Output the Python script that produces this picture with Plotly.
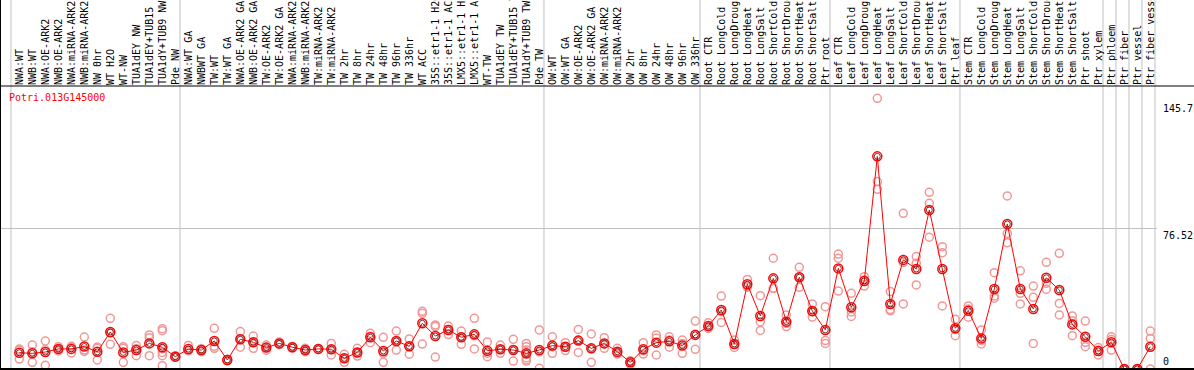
import plotly.graph_objects as go

# ---------------- data ----------------
categories = [
    "NWA:WT", "NWB:WT", "NWA:OE-ARK2", "NWB:OE-ARK2", "NWA:miRNA-ARK2", "NWB:miRNA-ARK2",
    "NW 0hr", "WT H2O", "WT-NW", "TUA1dEY NW", "TUA1dEY+TUB15 NW", "TUA1dY+TUB9 NW", "Pde NW",
    "NWA:WT GA", "NWBWT GA", "TW:WT", "TW:WT GA", "NWA:OE-ARK2 GA", "NWB:OE-ARK2 GA",
    "TW:OE-ARK2", "TW:OE-ARK2 GA", "NWA:miRNA-ARK2 GA", "NWB:miRNA-ARK2 GA", "TW:miRNA-ARK2",
    "TW:miRNA-ARK2", "TW 2hr", "TW 8hr", "TW 24hr", "TW 48hr", "TW 96hr", "TW 336hr", "WT ACC",
    "35S::etr1-1 H2O", "35S::etr1-1 ACC", "LMX5::etr1-1 H2O", "LMX5::etr1-1 ACC", "WT-TW",
    "TUA1dEY TW", "TUA1dEY+TUB15 TW", "TUA1dY+TUB9 TW", "Pde TW",
    "OW:WT", "OW:WT GA", "OW:OE-ARK2", "OW:OE-ARK2 GA", "OW:miRNA-ARK2", "OW:miRNA-ARK2",
    "OW 2hr", "OW 8hr", "OW 24hr", "OW 48hr", "OW 96hr", "OW 336hr",
    "Root CTR", "Root LongCold", "Root LongDrought", "Root LongHeat", "Root LongSalt",
    "Root ShortCold", "Root ShortDrought", "Root ShortHeat", "Root ShortSalt", "Ptr root",
    "Leaf CTR", "Leaf LongCold", "Leaf LongDrought", "Leaf LongHeat", "Leaf LongSalt",
    "Leaf ShortCold", "Leaf ShortDrought", "Leaf ShortHeat", "Leaf ShortSalt", "Ptr leaf",
    "Stem CTR", "Stem LongCold", "Stem LongDrought", "Stem LongHeat", "Stem LongSalt",
    "Stem ShortCold", "Stem ShortDrought", "Stem ShortHeat", "Stem ShortSalt", "Ptr shoot",
    "Ptr xylem", "Ptr phloem", "Ptr fiber", "Ptr vessel", "Ptr fiber vessel",
]

means = [
    8.8, 8.5, 9.2, 10.9, 10.9, 12.2, 9.3, 20.1, 9.0, 10.3, 13.9, 11.8, 6.7,
    10.8, 10.3, 15.2, 4.9, 16.1, 14.5, 11.6, 13.9, 11.8, 10.3, 10.9, 10.7, 5.8, 9.0,
    17.2, 9.8, 15.2, 12.3, 24.8, 17.9, 21.2, 17.2, 18.8, 9.9, 10.7, 10.3, 8.5, 10.3,
    12.7, 12.1, 15.4, 11.2, 13.9, 9.4, 3.6, 10.7, 14.3, 15.0, 12.7, 18.5,
    23.3, 32.0, 13.6, 46.0, 28.8, 49.2, 25.7, 49.8, 31.5, 21.2,
    54.6, 33.5, 47.8, 115.4, 35.3, 59.2, 54.3, 86.3, 54.3, 22.1,
    31.6, 16.6, 43.4, 78.7, 43.4, 32.6, 49.5, 42.9, 24.2, 17.5, 9.8,
    14.5, 0.0, 0.0, 12.1,
]

replicates = [
    [10.8, 10.2, 5.4], [13.0, 3.6, 9.4], [15.2, 2.0, 10.4], [12.1, 10.9, 9.8],
    [12.3, 8.7, 11.7], [17.3, 10.3, 9.5], [11.9, 11.2, 4.9], [27.5, 13.4, 19.5],
    [12.1, 3.6, 11.3], [12.7, 7.2, 11.0], [18.5, 17.0, 7.2],
    [21.9, 20.8, 11.0, 9.0, 7.2, 1.8], [7.2, 6.5, 6.4],
    [12.8, 10.0, 9.9], [11.0, 9.4, 10.5], [22.1, 12.3, 11.2], [5.3, 4.9, 4.5],
    [20.3, 16.2, 11.8], [17.9, 14.5, 11.2], [13.0, 11.6, 10.2], [14.6, 13.9, 13.2],
    [12.2, 11.8, 11.4], [11.2, 10.3, 9.4], [11.1, 10.9, 10.7], [13.9, 10.7, 7.6],
    [8.0, 5.8, 3.6], [11.2, 9.0, 7.0], [19.4, 17.8, 14.3], [17.2, 8.5, 3.6],
    [20.6, 15.0, 10.3], [16.3, 12.5, 8.0], [31.3, 30.2, 13.5], [23.9, 23.0, 6.5],
    [23.3, 21.5, 18.7], [20.6, 17.5, 13.4], [27.5, 18.0, 10.9], [14.7, 8.5, 6.7],
    [13.0, 10.7, 8.5], [16.1, 10.5, 4.3], [13.9, 12.1, 10.3, 8.0, 6.0, 4.9, 4.3],
    [21.2, 9.3, 0.4],
    [17.5, 12.0, 8.5], [14.3, 12.0, 10.0], [21.5, 15.6, 9.0], [19.0, 11.0, 3.6],
    [17.0, 13.6, 11.2], [11.2, 9.0, 8.1], [4.5, 3.6, 2.5], [14.3, 10.0, 8.1],
    [18.5, 16.8, 7.6], [17.5, 15.8, 11.8], [15.7, 13.8, 8.5], [26.0, 18.8, 10.7],
    [25.1, 23.0, 22.0], [39.6, 31.1, 25.3], [15.7, 13.4, 11.7], [48.6, 45.0, 44.4],
    [39.8, 25.7, 20.9], [60.1, 43.8, 43.7], [29.3, 24.8, 23.0], [55.2, 49.9, 44.3],
    [35.3, 31.0, 28.2], [33.8, 15.4, 13.9],
    [62.4, 60.1, 42.3], [41.1, 31.0, 28.5], [50.1, 48.3, 45.0], [146.9, 101.7, 97.5],
    [42.0, 32.3, 31.6], [84.5, 57.8, 35.3], [61.0, 57.4, 45.6], [95.9, 89.9, 71.5],
    [66.4, 63.1, 34.2], [27.0, 21.5, 18.1],
    [34.2, 32.5, 28.1], [21.2, 15.5, 13.6], [52.3, 39.6, 38.4], [93.9, 73.6, 68.5],
    [53.3, 41.1, 35.3], [45.0, 38.9, 13.9], [57.9, 46.5, 43.3], [62.8, 35.6, 29.3],
    [28.8, 26.2, 18.1], [26.0, 14.5, 12.1], [11.6, 10.2, 7.6],
    [17.5, 16.0, 10.3], [0.0, 0.0, 0.0], [0.0, 0.0, 0.0], [20.6, 16.6, 0.0],
]

group_sizes = [13, 28, 12, 10, 10, 11, 1, 1, 1, 1]
gene_name = "Potri.013G145000"
ytick_vals = [0, 76.52, 145.7]
ytick_text = ["0", "76.52", "145.7"]
ytick_anchor = ["bottom", "top", "top"]

# ---------------- layout constants ----------------
W, H = 1194, 370
ML, MR, MT, MB = 0, 37, 86, 1
PX_PER_CAT = 13.0
FIRST_X_PX = 19.3
SEP_OFFSET = -0.64
Y_MAX = 153.58
FONT = "DejaVu Sans Mono"
GRID = "#C0C0C0"

plot_w = W - ML - MR
plot_h = H - MT - MB
x_lo = -(FIRST_X_PX - ML) / PX_PER_CAT
x_hi = x_lo + plot_w / PX_PER_CAT


def to_paper_x(v):
    return (v - x_lo) / (x_hi - x_lo)


top_paper = 1 + MT / plot_h
right_paper = (W - ML) / plot_w

rep_x, rep_y = [], []
for i, reps in enumerate(replicates):
    for v in reps:
        rep_x.append(i)
        rep_y.append(v)

idx = list(range(len(categories)))

fig = go.Figure()
fig.add_trace(go.Scatter(
    x=rep_x, y=rep_y, mode="markers",
    marker=dict(symbol="circle-open", size=8, color="#F09898", line=dict(width=1.5)),
    hoverinfo="skip", showlegend=False,
))
fig.add_trace(go.Scatter(
    x=idx, y=means, mode="lines+markers",
    line=dict(color="#FF0000", width=1),
    marker=dict(symbol="circle-open", size=9, color="#FF0000", line=dict(width=1.5)),
    text=categories, hovertemplate="%{text}: %{y}<extra></extra>", showlegend=False,
))
fig.add_trace(go.Scatter(
    x=idx, y=means, mode="markers",
    marker=dict(symbol="circle-open", size=6, color="#500000", line=dict(width=0.8)),
    hoverinfo="skip", showlegend=False,
))

shapes = []
# group separators (through header and plot)
b = 0
bounds = [0]
for g in group_sizes:
    b += g
    bounds.append(b)
for bd in bounds:
    xp = to_paper_x(bd + SEP_OFFSET)
    shapes.append(dict(type="line", xref="paper", yref="paper", x0=xp, x1=xp,
                       y0=0, y1=top_paper, line=dict(color=GRID, width=1), layer="below"))
# frame lines
shapes.append(dict(type="line", xref="paper", yref="paper", x0=0, x1=right_paper,
                   y0=1, y1=1, line=dict(color="black", width=1)))
shapes.append(dict(type="line", xref="paper", yref="paper", x0=0, x1=right_paper,
                   y0=0, y1=0, line=dict(color="black", width=2)))
shapes.append(dict(type="line", xref="paper", yref="paper", x0=0, x1=0,
                   y0=0, y1=top_paper, line=dict(color="black", width=2)))

annotations = [
    dict(text=gene_name, xref="paper", yref="paper", x=7 / plot_w, y=1 - 11 / plot_h,
         xanchor="left", yanchor="middle", showarrow=False,
         font=dict(family=FONT, size=10, color="#FF0000")),
]
for v, t, a in zip(ytick_vals, ytick_text, ytick_anchor):
    annotations.append(dict(text=t, xref="paper", yref="y", x=1, y=v, xshift=4,
                            xanchor="left", yanchor=a, showarrow=False,
                            font=dict(family=FONT, size=10, color="black")))

fig.update_layout(
    width=W, height=H,
    margin=dict(l=ML, r=MR, t=MT, b=MB, pad=0),
    paper_bgcolor="white", plot_bgcolor="white",
    showlegend=False,
    shapes=shapes, annotations=annotations,
    xaxis=dict(range=[x_lo, x_hi], side="top", tickmode="array", tickvals=idx,
               ticktext=categories, tickangle=-90, ticks="", showgrid=False,
               zeroline=False, showline=False, automargin=False,
               tickfont=dict(family=FONT, size=10, color="black")),
    yaxis=dict(range=[0, Y_MAX], tickmode="array", tickvals=[76.52], showticklabels=False,
               showgrid=True, gridcolor=GRID, gridwidth=1, zeroline=False,
               showline=False, ticks="", automargin=False),
)

fig.write_html("out.html", config={"displayModeBar": False},
               post_script="document.body.style.margin='0';")
